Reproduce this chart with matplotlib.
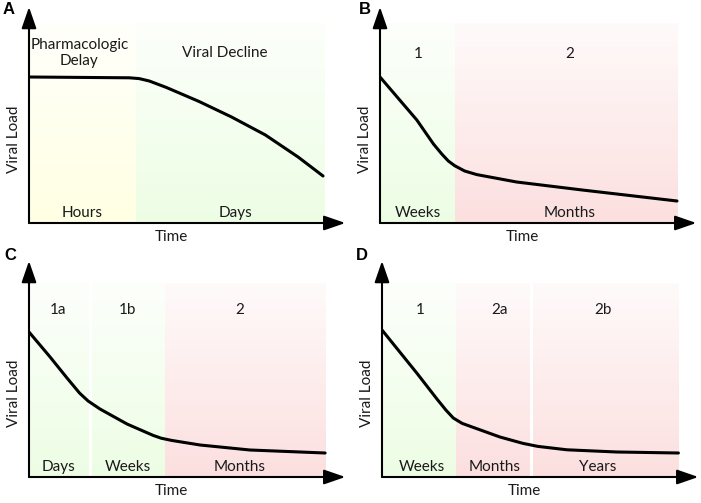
import matplotlib.pyplot as plt
import numpy as np

plt.rcParams['font.family'] = ['Lato', 'DejaVu Sans']

# ******************
# Data (time 0-100 = shaded span, load 0-100)
# ******************
a_time = [0, 33.8, 37.1, 40.5, 46.2, 57.2, 68.2, 79.6, 90.6, 99]
a_load = [73, 72.6, 72.2, 71.0, 67.8, 60.8, 53, 44, 33, 23.5]
a_bounds = [(0, 36.1), (36.1, 99.5)]
a_colors = ["yellow", "green"]
a_top = ["Pharmacologic\nDelay", "Viral Decline"]
a_top_x = [17, 66]
a_bottom = ["Hours", "Days"]
a_bottom_x = [18, 69.6]

b_time = [0, 12.4, 18.0, 20.8, 23.0, 25.2, 28.5, 32.6, 46, 68.1, 100]
b_load = [73, 51.5, 39.5, 34.5, 31, 28.6, 26, 24.2, 20.5, 16.5, 11]
b_bounds = [(0, 25.2), (25.2, 100)]
b_colors = ["green", "red"]
b_top = ["1", "2"]
b_top_x = [12.8, 63.8]
b_bottom = ["Weeks", "Months"]
b_bottom_x = [12.8, 63.8]

c_time = [0, 7.1, 12.8, 17.0, 19.9, 23.9, 33, 41.8, 44.5, 48.0, 57.6, 74.4, 99.7]
c_load = [72.5, 60, 49.5, 42, 38, 34, 26.5, 20.8, 19.4, 18.3, 16, 13.5, 12]
c_bounds = [(0, 19.9), (21.2, 45.8), (45.8, 99.7)]
c_colors = ["green", "green", "red"]
c_top = ["1a", "1b", "2"]
c_top_x = [9.8, 33.3, 71]
c_bottom = ["Days", "Weeks", "Months"]
c_bottom_x = [9.8, 33.3, 71]

d_time = [0, 11.7, 18.5, 21.5, 24.0, 27.0, 39.7, 47.5, 52.5, 62.3, 79.1, 99.8]
d_load = [73.5, 52, 39, 33.5, 29.5, 26.8, 20, 16.8, 15.3, 13.6, 12.5, 12]
d_bounds = [(0, 24.9), (24.9, 49.8), (50.8, 99.7)]
d_colors = ["green", "red", "red"]
d_top = ["1", "2a", "2b"]
d_top_x = [12.8, 39.7, 74.4]
d_bottom = ["Weeks", "Months", "Years"]
d_bottom_x = [13.5, 38, 72.7]

shade_rgb = {
    "yellow": (1.0, 1.0, 0.89),
    "green": (0.93, 0.995, 0.895),
    "red": (0.99, 0.875, 0.875),
}

# ******************
# Layout (pixels)
# ******************
W, H = 701, 503
PX_X, PX_Y = 2.97, 2.0
XMAX, YMAX = 107, 109


def gradient(rgb, n=100):
    top = np.array([1.0, 1.0, 1.0])
    base = np.array(rgb)
    f = np.linspace(1, 0.15, n)[:, None]
    col = base * f + top * (1 - f)
    return col[:, None, :]


def draw_panel(fig, origin, letter, letter_pos, time, load, bounds, colors,
               top_labels, top_x, top_y, bottom_labels, bottom_x, shade_top):
    ox, oy = origin
    ax = fig.add_axes([ox / W, (H - oy) / H, XMAX * PX_X / W, YMAX * PX_Y / H])
    ax.set_xlim(0, XMAX)
    ax.set_ylim(0, YMAX)
    ax.axis("off")

    # shaded phases: strong at the bottom, fading to white at the top
    for (x0, x1), c in zip(bounds, colors):
        ax.imshow(gradient(shade_rgb[c]), extent=[x0, x1, 0, shade_top],
                  aspect="auto", origin="lower", zorder=0)

    ax.plot(time, load, color="black", lw=2.2, solid_capstyle="round",
            solid_joinstyle="round", zorder=3)

    arrow = dict(arrowstyle="-|>,head_length=1.3,head_width=0.45", color="black",
                 lw=1.5, shrinkA=0, shrinkB=0)
    ax.annotate("", xy=(XMAX - 0.5, 0), xytext=(0, 0), arrowprops=arrow,
                annotation_clip=False, zorder=4)
    ax.annotate("", xy=(0, YMAX - 1), xytext=(0, 0), arrowprops=arrow,
                annotation_clip=False, zorder=4)

    for lab, x in zip(top_labels, top_x):
        ax.text(x, top_y, lab, ha="center", va="center", fontsize=11,
                linespacing=1.15, color="#1a1a1a")
    for lab, x in zip(bottom_labels, bottom_x):
        ax.text(x, 5, lab, ha="center", va="center", fontsize=11, color="#1a1a1a")

    ax.text(48, -7, "Time", ha="center", va="center", fontsize=11,
            color="#1a1a1a", clip_on=False)
    ax.text(-5, 42, "Viral Load", ha="center", va="center", rotation=90,
            fontsize=11, color="#1a1a1a", clip_on=False)

    fig.text(letter_pos[0] / W, 1 - letter_pos[1] / H, letter, fontsize=12,
             fontweight="bold", family="Liberation Sans", ha="center", va="center")
    return ax


fig = plt.figure(figsize=(W / 100, H / 100), dpi=100)

draw_panel(fig, (29, 223), "A", (9, 10), a_time, a_load, a_bounds, a_colors,
           a_top, a_top_x, 85, a_bottom, a_bottom_x, 100)
draw_panel(fig, (380, 223), "B", (365, 10), b_time, b_load, b_bounds, b_colors,
           b_top, b_top_x, 84.5, b_bottom, b_bottom_x, 100)
draw_panel(fig, (29, 477), "C", (10, 255), c_time, c_load, c_bounds, c_colors,
           c_top, c_top_x, 83.5, c_bottom, c_bottom_x, 97)
draw_panel(fig, (382, 477), "D", (362, 255), d_time, d_load, d_bounds, d_colors,
           d_top, d_top_x, 83.5, d_bottom, d_bottom_x, 97)

fig.savefig("out.png", dpi=100)
